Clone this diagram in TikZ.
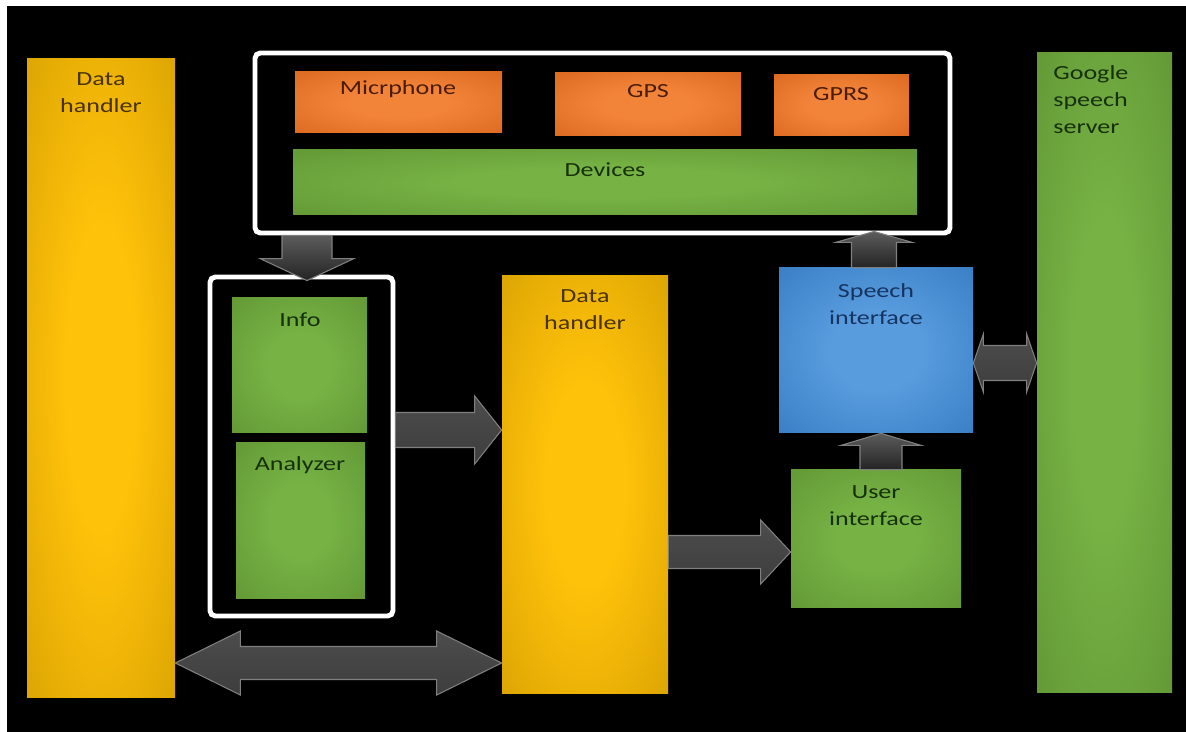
\documentclass[tikz,border=0pt]{standalone}
\usepackage{fontspec}
\setmainfont{Carlito}[FakeStretch=1.3]
\usetikzlibrary{calc,fit}

\definecolor{goldin}{RGB}{255,194,10}
\definecolor{goldout}{RGB}{200,148,0}
\definecolor{greenin}{RGB}{118,178,68}
\definecolor{greenout}{RGB}{88,138,46}
\definecolor{orangein}{RGB}{242,132,58}
\definecolor{orangeout}{RGB}{208,92,18}
\definecolor{bluein}{RGB}{88,156,222}
\definecolor{blueout}{RGB}{40,110,182}
\definecolor{txtgold}{RGB}{72,50,0}
\definecolor{txtgreen}{RGB}{22,48,10}
\definecolor{txtorange}{RGB}{75,28,5}
\definecolor{txtblue}{RGB}{22,52,98}

\pgfdeclareradialshading{goldglow}{\pgfpoint{0bp}{0bp}}{color(0bp)=(goldin); color(12bp)=(goldin); color(50bp)=(goldout)}
\pgfdeclareradialshading{greenglow}{\pgfpoint{0bp}{0bp}}{color(0bp)=(greenin); color(12bp)=(greenin); color(50bp)=(greenout)}
\pgfdeclareradialshading{orangeglow}{\pgfpoint{0bp}{0bp}}{color(0bp)=(orangein); color(12bp)=(orangein); color(50bp)=(orangeout)}
\pgfdeclareradialshading{blueglow}{\pgfpoint{0bp}{0bp}}{color(0bp)=(bluein); color(12bp)=(bluein); color(50bp)=(blueout)}

\tikzset{
  box/.style={inner sep=0pt, shade},
  goldbox/.style={box, shading=goldglow},
  greenbox/.style={box, shading=greenglow},
  orangebox/.style={box, shading=orangeglow},
  bluebox/.style={box, shading=blueglow},
  frame/.style={draw=white, line width=2.8pt, rounded corners=3pt, inner sep=0pt},
  txt/.style={align=center, inner sep=0pt, font=\fontsize{11.4}{15.3}\selectfont},
  harrow/.style={draw=black!50, line width=0.6pt, top color=black!70, middle color=black!94, bottom color=black!76},
  varrow/.style={draw=black!50, line width=0.6pt, top color=black!64, bottom color=black!86},
  fat/.style n args={3}{to path={
    ($(\tikztotarget)!#3!(\tikztostart)$) coordinate (fat-b)
    ($(\tikztostart)!#1!90:(\tikztotarget)$) -- ($(fat-b)!#1!-90:(\tikztostart)$)
    -- ($(fat-b)!#2!-90:(\tikztostart)$) -- (\tikztotarget)
    -- ($(fat-b)!#2!90:(\tikztostart)$) -- ($(fat-b)!#1!90:(\tikztostart)$)
    -- ($(\tikztostart)!#1!-90:(\tikztotarget)$) -- cycle}},
  fatboth/.style n args={3}{to path={
    ($(\tikztostart)!#3!(\tikztotarget)$) coordinate (fat-a)
    ($(\tikztotarget)!#3!(\tikztostart)$) coordinate (fat-b)
    (\tikztostart) -- ($(fat-a)!#2!90:(\tikztotarget)$) -- ($(fat-a)!#1!90:(\tikztotarget)$)
    -- ($(fat-b)!#1!-90:(\tikztostart)$) -- ($(fat-b)!#2!-90:(\tikztostart)$) -- (\tikztotarget)
    -- ($(fat-b)!#2!90:(\tikztostart)$) -- ($(fat-b)!#1!90:(\tikztostart)$)
    -- ($(fat-a)!#1!-90:(\tikztotarget)$) -- ($(fat-a)!#2!-90:(\tikztotarget)$) -- cycle}},
}

\begin{document}
\begin{tikzpicture}[x=0.02cm,y=-0.02cm]
  \useasboundingbox (0,0) rectangle (1186,732);
  \fill[white] (0,0) rectangle (1186,732);
  \fill[black] (7,6) rectangle (1186,732);

  \node[goldbox, fit={(27,59) (175,697)}] (dhleft) {};
  \node[txt, text=txtgold] (dhlefttxt) at (101,92.5) {Data\\handler};

  \node[frame, fit={(255,53) (950,233)}] (devframe) {};
  \node[orangebox, fit={(295,72) (502,133)}] (mic) {};
  \node[txt, text=txtorange] (mictxt) at (398,89) {Micrphone};
  \node[orangebox, fit={(555,73) (741,136)}] (gps) {};
  \node[txt, text=txtorange] (gpstxt) at (648,91) {GPS};
  \node[orangebox, fit={(774,75) (909,136)}] (gprs) {};
  \node[txt, text=txtorange] (gprstxt) at (841,94) {GPRS};
  \node[greenbox, fit={(293,150) (917,215)}] (devices) {};
  \node[txt, text=txtgreen] (devicestxt) at (605,170) {Devices};

  \node[frame, fit={(210,277) (393,616)}] (infoframe) {};
  \node[greenbox, fit={(232,298) (367,433)}] (info) {};
  \node[txt, text=txtgreen] (infotxt) at (300,320) {Info};
  \node[greenbox, fit={(236,443) (365,598)}] (analyzer) {};
  \node[txt, text=txtgreen] (analyzertxt) at (300,465) {Analyzer};

  \node[goldbox, fit={(502,276) (668,693)}] (dhmid) {};
  \node[txt, text=txtgold] (dhmidtxt) at (585,310) {Data\\handler};

  \node[bluebox, fit={(779,268) (973,433)}] (speech) {};
  \node[txt, text=txtblue] (speechtxt) at (876,304) {Speech\\interface};
  \node[greenbox, fit={(791,470) (961,607)}] (user) {};
  \node[txt, text=txtgreen] (usertxt) at (876,505.5) {User\\interface};

  \node[greenbox, fit={(1037,53) (1172,692)}] (google) {};
  \node[txt, text=txtgreen, align=left, anchor=west] (googletxt) at (1053,100) {Google\\speech\\server};

  \coordinate (downend) at ($(307,0 |- infoframe.north)+(0,6)$);
  \coordinate (upend) at ($(874,0 |- devframe.south)+(0,-4)$);
  \path[varrow] (307,0 |- devframe.south) to[fat={0.5cm}{0.94cm}{0.44cm}] (downend);
  \path[varrow] (874,0 |- speech.north) to[fat={0.45cm}{0.77cm}{0.22cm}] (upend);
  \path[varrow] (881,0 |- user.north) to[fat={0.42cm}{0.8cm}{0.24cm}] (881,0 |- speech.south);
  \path[harrow] (infoframe.east |- 0,430) to[fat={0.35cm}{0.68cm}{0.54cm}] (dhmid.west |- 0,430);
  \path[harrow] (dhmid.east |- 0,552) to[fat={0.33cm}{0.64cm}{0.6cm}] (user.west |- 0,552);
  \path[harrow] (dhleft.east |- 0,663) to[fatboth={0.33cm}{0.64cm}{1.3cm}] (dhmid.west |- 0,663);
  \path[harrow] (speech.east |- 0,363) to[fatboth={0.35cm}{0.58cm}{0.2cm}] (google.west |- 0,363);
\end{tikzpicture}
\end{document}
